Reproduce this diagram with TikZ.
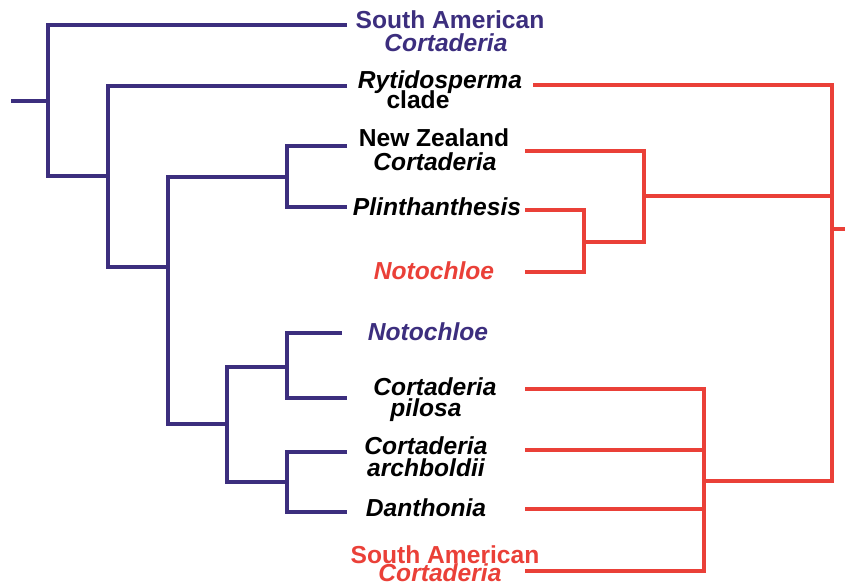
\documentclass[tikz,border=0pt]{standalone}
\usepackage{fontspec}
\setmainfont{Liberation Sans}
\definecolor{treeblue}{HTML}{3C2E7E}
\definecolor{treered}{HTML}{EA4038}
\begin{document}
\begin{tikzpicture}[x=1pt,y=-1pt,
  bl/.style={draw=treeblue,line width=3.2pt,line join=miter},
  rd/.style={draw=treered,line width=3.4pt,line join=miter},
  lab/.style={anchor=base,inner sep=0pt,font=\fontsize{24.6}{24}\selectfont\bfseries},
  labi/.style={lab,font=\fontsize{24.6}{24}\selectfont\bfseries\itshape}]
\useasboundingbox (0,0) rectangle (845,584);
% blue tree coordinates
\coordinate (root) at (11,101);
\coordinate (jA) at (48,101);
\coordinate (jB) at (108,176);
\coordinate (jC) at (168,267);
\coordinate (jD) at (287,177);
\coordinate (jE) at (227,424);
\coordinate (jF) at (287,367);
\coordinate (jG) at (287,482);
\coordinate (eSA) at (347,25);
\coordinate (eRy) at (347,86);
\coordinate (eNZ) at (347,146);
\coordinate (ePl) at (347,207);
\coordinate (eNo) at (342,333);
\coordinate (ePi) at (347,398);
\coordinate (eAr) at (347,452);
\coordinate (eDa) at (347,512);
\draw[bl] (root) -- (jA);
\draw[bl] (eSA) -| (jA) |- (jB);
\draw[bl] (eRy) -| (jB) |- (jC);
\draw[bl] (eNZ) -| (jD) |- (ePl);
\draw[bl] (jD) -| (jC) |- (jE);
\draw[bl] (jF) -| (jE) |- (jG);
\draw[bl] (eNo) -| (jF) |- (ePi);
\draw[bl] (eAr) -| (jG) |- (eDa);
% red tree coordinates
\coordinate (rRy) at (533,85);
\coordinate (rNZ) at (525,151);
\coordinate (rPl) at (525,210);
\coordinate (rNo) at (525,272);
\coordinate (rPi) at (525,389);
\coordinate (rAr) at (525,450);
\coordinate (rDa) at (525,509);
\coordinate (rSA) at (525,571);
\coordinate (kH) at (584,242);
\coordinate (kI) at (644,196);
\coordinate (kIr) at (832,196);
\coordinate (kL) at (704,481);
\coordinate (kK) at (832,481);
\coordinate (kAr) at (704,450);
\coordinate (kDa) at (704,509);
\coordinate (kJ) at (832,229);
\coordinate (rootR) at (846,229);
\draw[rd] (rPl) -| (kH) |- (rNo);
\draw[rd] (rNZ) -| (kI) |- (kH);
\draw[rd] (kI) -- (kIr);
\draw[rd] (rRy) -| (kK) -- (kL);
\draw[rd] (kJ) -- (rootR);
\draw[rd] (rPi) -| (kL) |- (rSA);
\draw[rd] (rAr) -- (kAr);
\draw[rd] (rDa) -- (kDa);
% labels
\node[lab,text=treeblue] (tSA1) at (450,28) {South American};
\node[labi,text=treeblue] (tSA2) at (446,51) {Cortaderia};
\node[labi] (tRy1) at (440,88) {Rytidosperma};
\node[lab] (tRy2) at (418,108) {clade};
\node[lab] (tNZ1) at (434,146) {New Zealand};
\node[labi] (tNZ2) at (435,170) {Cortaderia};
\node[labi] (tPl) at (437,215) {Plinthanthesis};
\node[labi,text=treered] (tNoR) at (434,279) {Notochloe};
\node[labi,text=treeblue] (tNoB) at (428,340) {Notochloe};
\node[labi] (tPi1) at (435,395) {Cortaderia};
\node[labi] (tPi2) at (426,416) {pilosa};
\node[labi] (tAr1) at (426,454) {Cortaderia};
\node[labi] (tAr2) at (426,476) {archboldii};
\node[labi] (tDa) at (426,516) {Danthonia};
\node[lab,text=treered] (tSR1) at (445,563) {South American};
\node[labi,text=treered] (tSR2) at (440,581) {Cortaderia};
\end{tikzpicture}
\end{document}
